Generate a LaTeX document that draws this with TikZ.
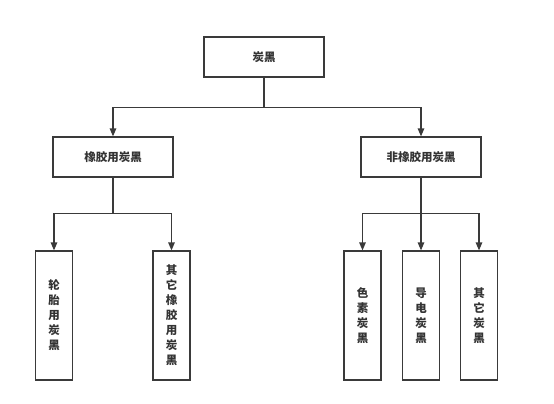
\documentclass[tikz,border=0pt]{standalone}
\usepackage{fontspec}
\newfontfamily\cjk{Noto Sans CJK SC}
\usetikzlibrary{arrows.meta}
\definecolor{linegray}{HTML}{3A3A3A}
\definecolor{textgray}{HTML}{333333}

\begin{document}
\begin{tikzpicture}[x=1pt,y=-1pt,
  box/.style={draw=linegray,line width=1.2pt,text=textgray,inner sep=0pt,
    font=\cjk\bfseries\fontsize{11.5}{15}\selectfont},
  wide/.style={box,minimum width=120pt,minimum height=40pt},
  tall/.style={box,minimum width=37pt,minimum height=129pt,align=center},
  arr/.style={draw=linegray,line width=1.2pt,-{Triangle[length=8pt,width=6.5pt]}}]
\useasboundingbox (0,0) rectangle (554,404);
\node[wide] (cb) at (264,57) {炭黑};
\node[wide] (rub) at (113,157) {橡胶用炭黑};
\node[wide] (nonrub) at (421,157) {非橡胶用炭黑};
\node[tall] (tire) at (54,315.5) {轮\\胎\\用\\炭\\黑};
\node[tall] (otherrub) at (171.5,315.5) {其\\它\\橡\\胶\\用\\炭\\黑};
\node[tall] (pigment) at (362.5,315.5) {色\\素\\炭\\黑};
\node[tall] (conduct) at (421,315.5) {导\\电\\炭\\黑};
\node[tall] (othernon) at (479,315.5) {其\\它\\炭\\黑};
\foreach \n in {rub,nonrub}
  \draw[arr] (cb.south) -- ++(0,30) -| (\n.north);
\foreach \n in {tire,otherrub}
  \draw[arr] (rub.south) -- ++(0,36) -| (\n.north);
\foreach \n in {pigment,conduct,othernon}
  \draw[arr] (nonrub.south) -- ++(0,36) -| (\n.north);
\end{tikzpicture}
\end{document}
